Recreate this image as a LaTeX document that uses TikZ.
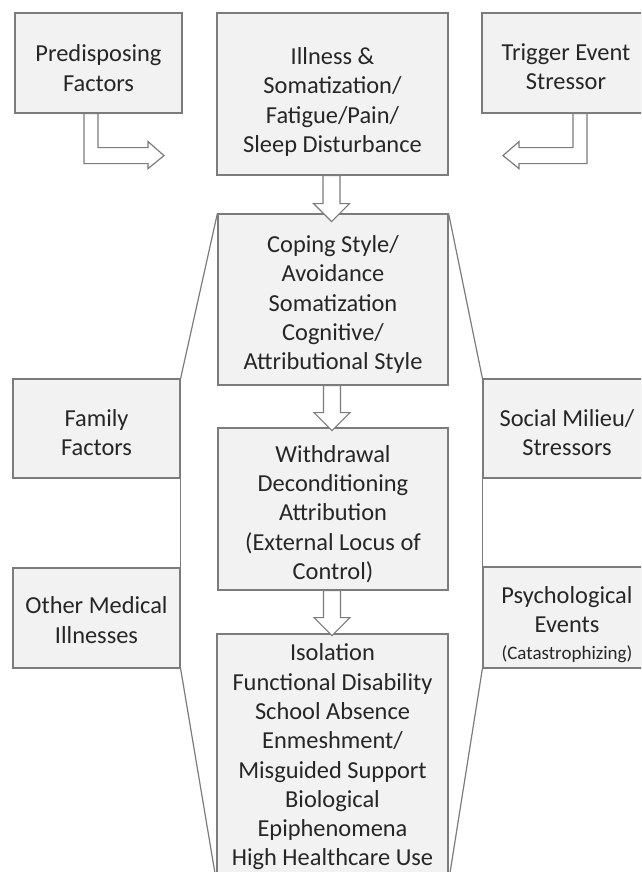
\documentclass[tikz,border=0pt]{standalone}
\usepackage{fontspec}
\setmainfont{Carlito}
\usetikzlibrary{calc,shadows}
\definecolor{boxfill}{HTML}{F2F2F2}
\definecolor{boxline}{HTML}{7C7C7C}
\definecolor{txt}{HTML}{262626}
\newcommand{\vblock}[2]{\begin{scope}[shift={(#1.south)}]\draw[blk] (-9.5,0) -- (-9.5,#2-18) -- (-19,#2-18) -- (-1,#2) -- (17,#2-18) -- (7.5,#2-18) -- (7.5,0) -- cycle;\end{scope}}
\newcommand{\cbox}[7]{\node[box, minimum width=#4pt, minimum height=#5pt] (#1) at (#2,#3) {};
  \node[lbl] (#1t) at ([yshift=-#6pt]#1.center) {#7};}
\begin{document}
\begin{tikzpicture}[x=1pt,y=-1pt,
  box/.style={draw=boxline, line width=1.2pt, fill=boxfill, inner sep=0pt,
    drop shadow={shadow xshift=0.8pt, shadow yshift=-1.3pt, opacity=0.3, fill=black!60}},
  lbl/.style={text=txt, align=center, font=\fontsize{24.4}{29.3}\selectfont, inner sep=0pt},
  blk/.style={draw=boxline, line width=1.2pt, fill=white, line join=miter},
  outline/.style={draw=boxline, line width=1.2pt}]
\useasboundingbox (0,0) rectangle (641,872);
\clip (0,0) rectangle (641,872);
\fill[white] (0,0) rectangle (641,872);

% boxes
\cbox{pre}{98.5}{63}{167}{100}{5}{Predisposing\\Factors}
\cbox{ill}{332.5}{94}{231}{162}{8}{Illness \&\\Somatization/\\Fatigue/Pain/\\Sleep Disturbance}
\cbox{trg}{566}{63}{168}{100}{4}{Trigger Event\\Stressor}
\cbox{cop}{333}{299.5}{230}{171}{5}{Coping Style/\\Avoidance\\Somatization\\Cognitive/\\Attributional Style}
\cbox{wd}{333}{509}{230}{162}{5}{Withdrawal\\Deconditioning\\Attribution\\(External Locus of\\Control)}
\cbox{iso}{332.5}{757.5}{231}{247}{-0.5}{Isolation\\Functional Disability\\School Absence\\Enmeshment/\\Misguided Support\\Biological\\Epiphenomena\\High Healthcare Use}
\cbox{fam}{96.5}{428.5}{167}{99}{4}{Family\\Factors}
\cbox{oth}{96.5}{618}{167}{100}{2}{Other Medical\\Illnesses}
\cbox{soc}{567}{428.5}{168}{99}{4}{Social Milieu/\\Stressors}
\cbox{psy}{567}{617.5}{168}{101}{7}{Psychological\\Events\\[-2pt]{\fontsize{19}{22}\selectfont (Catastrophizing)}}

% outline connectors
\draw[outline] (cop.north west) -- (fam.north east);
\draw[outline] (fam.south east) -- (oth.north east);
\draw[outline] (oth.south east) -- (iso.south west);
\draw[outline] (cop.north east) -- (soc.north west);
\draw[outline] (soc.south west) -- (psy.north west);
\draw[outline] (psy.south west) -- (iso.south east);

% elbow block arrows
\begin{scope}[shift={(pre.south)}]
\draw[blk] (-14.5,0) -- (-14.5,50) -- (49.5,50) -- (49.5,55) -- (65.5,42) -- (49.5,28) -- (49.5,34) -- (-0.5,34) -- (-0.5,0) -- cycle;
\end{scope}
\begin{scope}[shift={(trg.south)}]
\draw[blk] (21,0) -- (21,50) -- (-47,50) -- (-47,55) -- (-63,42) -- (-47,28) -- (-47,34) -- (7,34) -- (7,0) -- cycle;
\end{scope}

% vertical block arrows
\vblock{ill}{46}
\vblock{cop}{45}
\vblock{wd}{45}
\end{tikzpicture}
\end{document}
